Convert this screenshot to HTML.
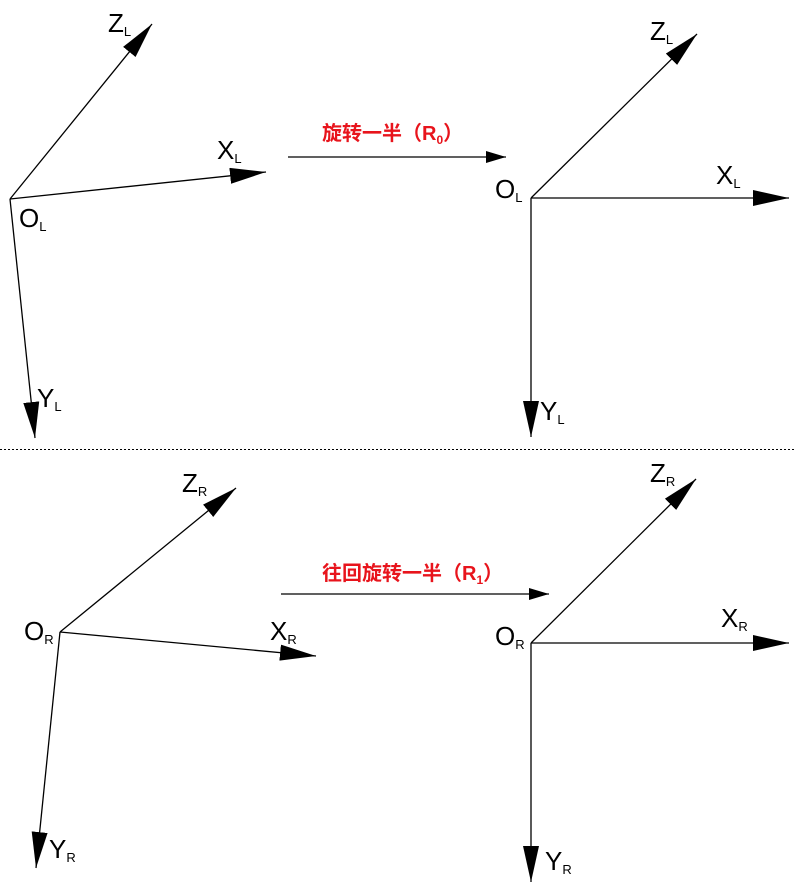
<!DOCTYPE html>
<html><head><meta charset="utf-8"><style>
html,body{margin:0;padding:0;background:#fff;}
svg{display:block;}
.l{font-family:"Liberation Sans",sans-serif;font-size:26px;fill:#000;}
.s{font-size:13px;}
.r{font-family:"Liberation Sans","Noto Sans CJK SC",sans-serif;font-size:20px;font-weight:bold;fill:#e8141c;}
</style></head><body>
<svg width="794" height="896" viewBox="0 0 794 896" xmlns="http://www.w3.org/2000/svg">
<defs>
<marker id="a" markerUnits="userSpaceOnUse" markerWidth="40" markerHeight="18" refX="36" refY="8" orient="auto">
<path d="M0,0 L36,8 L0,16 z" fill="#000"/>
</marker>
<marker id="b" markerUnits="userSpaceOnUse" markerWidth="30" markerHeight="14" refX="20" refY="6" orient="auto">
<path d="M0,0 L20,6 L0,12 z" fill="#000"/>
</marker>
</defs>
<g stroke="#000" stroke-width="1.3" fill="none">
<line x1="10" y1="199" x2="152" y2="24" marker-end="url(#a)"/>
<line x1="10" y1="199" x2="266" y2="172" marker-end="url(#a)"/>
<line x1="10" y1="199" x2="35" y2="438" marker-end="url(#a)"/>
<line x1="531" y1="198" x2="697" y2="34" marker-end="url(#a)"/>
<line x1="531" y1="198" x2="789" y2="198" marker-end="url(#a)"/>
<line x1="531" y1="198" x2="531" y2="437" marker-end="url(#a)"/>
<line x1="288" y1="157" x2="506" y2="157" marker-end="url(#b)"/>
<line x1="60" y1="632" x2="236" y2="488" marker-end="url(#a)"/>
<line x1="60" y1="632" x2="316" y2="656" marker-end="url(#a)"/>
<line x1="60" y1="632" x2="36" y2="868" marker-end="url(#a)"/>
<line x1="531" y1="643" x2="696" y2="479" marker-end="url(#a)"/>
<line x1="531" y1="643" x2="789" y2="643" marker-end="url(#a)"/>
<line x1="531" y1="643" x2="531" y2="882" marker-end="url(#a)"/>
<line x1="281" y1="594" x2="549" y2="594" marker-end="url(#b)"/>
<line x1="0" y1="449.5" x2="794" y2="449.5" stroke-width="1" stroke-dasharray="2,2"/>
</g>
<text class="l" x="108" y="32">Z<tspan class="s" dy="4">L</tspan></text>
<text class="l" x="217" y="159">X<tspan class="s" dy="4">L</tspan></text>
<text class="l" x="19" y="227">O<tspan class="s" dy="4">L</tspan></text>
<text class="l" x="37" y="407">Y<tspan class="s" dy="4">L</tspan></text>
<text class="l" x="650" y="40">Z<tspan class="s" dy="4">L</tspan></text>
<text class="l" x="716" y="184">X<tspan class="s" dy="4">L</tspan></text>
<text class="l" x="495" y="198">O<tspan class="s" dy="4">L</tspan></text>
<text class="l" x="540" y="420">Y<tspan class="s" dy="4">L</tspan></text>
<text class="l" x="182" y="492">Z<tspan class="s" dy="4">R</tspan></text>
<text class="l" x="270" y="640">X<tspan class="s" dy="4">R</tspan></text>
<text class="l" x="24" y="640">O<tspan class="s" dy="4">R</tspan></text>
<text class="l" x="49" y="858">Y<tspan class="s" dy="4">R</tspan></text>
<text class="l" x="650" y="482">Z<tspan class="s" dy="4">R</tspan></text>
<text class="l" x="721" y="627">X<tspan class="s" dy="4">R</tspan></text>
<text class="l" x="495" y="645">O<tspan class="s" dy="4">R</tspan></text>
<text class="l" x="545" y="870">Y<tspan class="s" dy="4">R</tspan></text>
<text class="r" x="322" y="140">旋转一半（R<tspan font-size="12" dy="4">0</tspan><tspan dy="-4">）</tspan></text>
<text class="r" x="322" y="580">往回旋转一半（R<tspan font-size="12" dy="4">1</tspan><tspan dy="-4">）</tspan></text>
</svg>
</body></html>
